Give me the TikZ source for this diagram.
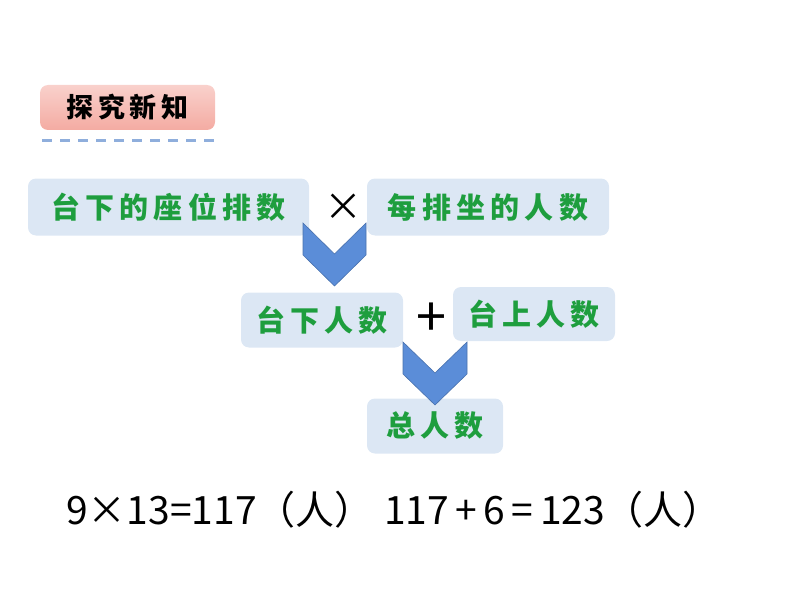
\documentclass[tikz,border=0pt]{standalone}
\usepackage{fontspec}
\usepackage{xcolor}
\newfontfamily\cjk[LetterSpace=18]{Noto Sans CJK SC}
\newfontfamily\cjkeq{Noto Sans CJK SC}
\usetikzlibrary{positioning}

\definecolor{boxblue}{HTML}{DCE7F4}
\definecolor{wordgreen}{HTML}{1E9E3E}
\definecolor{arrowblue}{HTML}{5B8DD8}
\definecolor{titlepink}{HTML}{F4ABA2}
\definecolor{dashblue}{HTML}{8FAEDC}

\tikzset{
  qty/.style={fill=boxblue, rounded corners=8pt, inner sep=0pt, text=wordgreen,
    font=\cjk\bfseries\fontsize{29}{29}\selectfont},
  chev/.style={fill=arrowblue, draw=arrowblue!80!black, line width=0.6pt},
  op/.style={font=\cjkeq\fontsize{38}{38}\selectfont, inner sep=0pt},
  calc/.style={font=\cjkeq\fontsize{39}{39}\selectfont, anchor=west, inner sep=0pt}
}

\begin{document}
\begin{tikzpicture}[x=1pt,y=-1pt]
\useasboundingbox (0,0) rectangle (794,596);
% title
\node[top color=titlepink!55, bottom color=titlepink, rounded corners=8pt,
  minimum width=175, minimum height=45, inner sep=0pt,
  font=\cjk\bfseries\fontsize{27}{27}\selectfont] (title) at (127.5,107.5) {探究新知};
\draw[dashblue, line width=3pt, dash pattern=on 10pt off 8pt] (42,141) -- (216,141);
% first row
\node[qty, minimum width=281, minimum height=57] (rows) at (168.5,207) {台下的座位排数};
\node[op] (times) at (343,207) {×};
\node[qty, minimum width=242, minimum height=57] (perrow) at (488,207) {每排坐的人数};
% second row
\node[qty, minimum width=162, minimum height=55] (below) at (322,320) {台下人数};
\node[op, font=\cjkeq\fontsize{54}{54}\selectfont] (plus) at (431,320) {+};
\node[qty, minimum width=162, minimum height=54] (above) at (534,314) {台上人数};
% result
\node[qty, minimum width=136, minimum height=55] (total) at (435,426) {总人数};
% chevrons
\draw[chev] (303,223) -- (334.5,254) -- (366,223) -- (366,255) -- (334.5,286) -- (303,255) -- cycle;
\draw[chev] (403,342) -- (435,373) -- (467,342) -- (467,374) -- (435,405) -- (403,374) -- cycle;
% equations
\node[calc] (calcA) at (66,510) {9×13=117（人）};
\node[calc] (calcB) at (384,510) {117\,+\,6\,=\,123（人）};
\end{tikzpicture}
\end{document}
